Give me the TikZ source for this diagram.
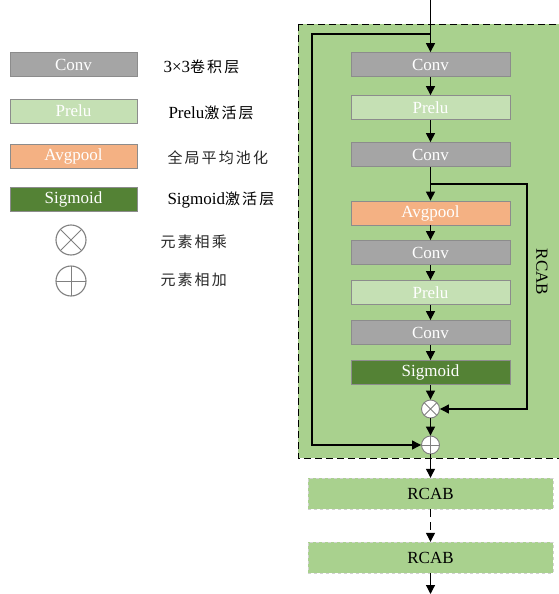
\documentclass[tikz,border=0pt]{standalone}
\usepackage{fontspec}
\setmainfont{Liberation Serif}
\newfontfamily\cjk[LetterSpace=14]{Noto Sans CJK SC}
\usetikzlibrary{arrows.meta}

\definecolor{convgray}{HTML}{A5A5A5}
\definecolor{prelugreen}{HTML}{C5E0B4}
\definecolor{poolorange}{HTML}{F4B183}
\definecolor{sigmgreen}{HTML}{548235}
\definecolor{rcabgreen}{HTML}{A9D18E}
\definecolor{boxedge}{HTML}{8C8C8C}

\tikzset{
  blk/.style={draw=boxedge, line width=0.8pt, minimum width=159pt, minimum height=24pt,
    inner sep=0pt, text=white, font=\fontsize{17}{17}\selectfont},
  convblk/.style={blk, fill=convgray},
  prelublk/.style={blk, fill=prelugreen},
  poolblk/.style={blk, fill=poolorange},
  sigmblk/.style={blk, fill=sigmgreen},
  rcabblk/.style={draw=gray!35, dashed, fill=rcabgreen, minimum width=245pt, minimum height=31pt,
    inner sep=0pt, font=\fontsize{17}{17}\selectfont},
  mulnode/.style={circle, draw=gray, line width=0.9pt, fill=white, minimum size=18pt, inner sep=0pt,
    path picture={\draw[gray, line width=0.9pt]
      (path picture bounding box.north west) -- (path picture bounding box.south east)
      (path picture bounding box.north east) -- (path picture bounding box.south west);}},
  addnode/.style={circle, draw=gray, line width=0.9pt, fill=white, minimum size=18pt, inner sep=0pt,
    path picture={\draw[gray, line width=0.9pt]
      (path picture bounding box.north) -- (path picture bounding box.south)
      (path picture bounding box.east) -- (path picture bounding box.west);}},
  arr/.style={-{Triangle[length=9pt,width=9pt]}, line width=1.2pt},
  wire/.style={line width=1.2pt},
  lbl/.style={anchor=west, font=\fontsize{17}{17}\selectfont},
  cjklbl/.style={anchor=west, font=\fontsize{15}{15}\cjk, text=black!85}
}

\begin{document}
\begin{tikzpicture}[x=1pt,y=-1pt]
\useasboundingbox (0,0) rectangle (558,594);

% RCAB frame
\draw[fill=rcabgreen, dash pattern=on 7pt off 4pt, line width=0.9pt] (298,24) rectangle (565,458);
\node[rotate=-90, font=\fontsize{17}{17}\selectfont] (rcabtxt) at (542,272) {RCAB};

% main branch
\node[convblk] (conva) at (430.5,64.5) {Conv};
\node[prelublk] (prelua) at (430.5,107.5) {Prelu};
\node[convblk] (convb) at (430.5,154.5) {Conv};
\node[poolblk] (pool) at (430.5,213) {Avgpool};
\node[convblk] (convc) at (430.5,252.5) {Conv};
\node[prelublk] (prelub) at (430.5,292.5) {Prelu};
\node[convblk] (convd) at (430.5,332.5) {Conv};
\node[sigmblk] (sigm) at (430.5,372.5) {Sigmoid};
\node[mulnode] (mul) at (430.5,409) {};
\node[addnode] (add) at (430.5,445) {};
\node[rcabblk] (rcaba) at (430.5,493.5) {RCAB};
\node[rcabblk] (rcabb) at (430.5,557.5) {RCAB};

\coordinate (in) at (430.5,0);
\coordinate (split) at (430.5,34);
\coordinate (skip) at (312,34);
\coordinate (fork) at (430.5,184);
\coordinate (forkr) at (527,184);
\coordinate (out) at (430.5,594);

\draw[wire] (in) -- (split);
\draw[arr] (split) -- (conva);
\draw[arr] (conva) -- (prelua);
\draw[arr] (prelua) -- (convb);
\draw[arr] (convb) -- (pool);
\draw[arr] (pool) -- (convc);
\draw[arr] (convc) -- (prelub);
\draw[arr] (prelub) -- (convd);
\draw[arr] (convd) -- (sigm);
\draw[arr] (sigm) -- (mul);
\draw[arr] (mul) -- (add);
\draw[arr] (fork) -- (forkr) |- (mul);
\draw[arr] (split) -- (skip) |- (add);
\draw[arr] (add) -- (rcaba);
\draw[arr, dash pattern=on 8pt off 5pt] (rcaba) -- (rcabb);
\draw[arr] (rcabb) -- (out);

% legend
\node[convblk, minimum width=127pt] (lconv) at (73.5,64.5) {Conv};
\node[prelublk, minimum width=127pt] (lprelu) at (73.5,111) {Prelu};
\node[poolblk, minimum width=127pt] (lpool) at (73.5,156) {Avgpool};
\node[sigmblk, minimum width=127pt] (lsigm) at (73.5,199) {Sigmoid};
\node[mulnode, minimum size=30pt, fill=none, line width=1.1pt] (lmul) at (71,240) {};
\node[addnode, minimum size=30pt, fill=none, line width=1.1pt] (ladd) at (71,281) {};

\node[lbl] (tconv) at (160,67) {3×3{\fontsize{15}{15}\cjk 卷积层}};
\node[lbl] (tprelu) at (165,113) {Prelu{\fontsize{15}{15}\cjk 激活层}};
\node[cjklbl] (tpool) at (164,158) {全局平均池化};
\node[lbl] (tsigm) at (164,200) {Sigmoid{\fontsize{15}{15}\cjk 激活层}};
\node[cjklbl] (tmul) at (157,242) {元素相乘};
\node[cjklbl] (tadd) at (157,280) {元素相加};
\end{tikzpicture}
\end{document}
